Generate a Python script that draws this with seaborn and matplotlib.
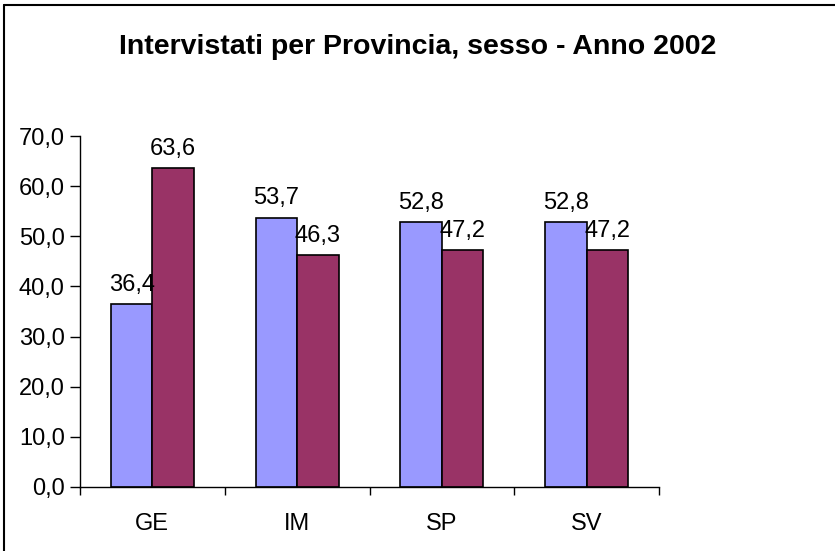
import matplotlib
matplotlib.use("Agg")
import matplotlib.pyplot as plt
import seaborn as sns
import pandas as pd
from matplotlib.ticker import FuncFormatter, MultipleLocator
from matplotlib.lines import Line2D

province = ["GE", "IM", "SP", "SV"]
serie1 = [36.4, 53.7, 52.8, 52.8]
serie2 = [63.6, 46.3, 47.2, 47.2]
serie_nomi = ["Serie1", "Serie2"]
titolo = "Intervistati per Provincia, sesso - Anno 2002"

df = pd.DataFrame({
    "Provincia": province * 2,
    "Valore": serie1 + serie2,
    "Serie": [serie_nomi[0]] * len(province) + [serie_nomi[1]] * len(province),
})

sns.set_theme(style="white")
plt.rcParams["font.family"] = ["Liberation Sans", "DejaVu Sans"]

fig = plt.figure(figsize=(8.35, 5.51), dpi=100)
ax = fig.add_axes([80 / 835, 1 - 487 / 551, (659 - 80) / 835, (487 - 136) / 551])

sns.barplot(data=df, x="Provincia", y="Valore", hue="Serie",
            palette=["#9999FF", "#993366"], saturation=1, width=0.573, gap=0,
            edgecolor="black", linewidth=1.2, legend=False, ax=ax)

for cont in ax.containers:
    ax.bar_label(cont, labels=[f"{v:.1f}".replace(".", ",") for v in cont.datavalues],
                 padding=6, fontsize=17, color="black")

ax.set_ylim(0, 70)
ax.set_xlim(-0.5, len(province) - 0.5)
ax.yaxis.set_major_locator(MultipleLocator(10))
ax.yaxis.set_major_formatter(FuncFormatter(lambda v, p: f"{v:.1f}".replace(".", ",")))
ax.set_xticks([i - 0.5 for i in range(len(province) + 1)], minor=False)
ax.set_xticklabels([""] * (len(province) + 1))
ax.set_xticks(range(len(province)), minor=True)
ax.set_xticklabels(province, minor=True)
ax.tick_params(axis="x", which="major", direction="out", length=6, width=1, color="black", bottom=True)
ax.tick_params(axis="x", which="minor", length=0, pad=19, labelsize=17, labelcolor="black")
ax.tick_params(axis="y", direction="out", length=7, width=1, color="black", left=True,
               labelsize=17, labelcolor="black", pad=4)
ax.set_xlabel("")
ax.set_ylabel("")
for s in ["top", "right"]:
    ax.spines[s].set_visible(False)
for s in ["left", "bottom"]:
    ax.spines[s].set_color("black")
    ax.spines[s].set_linewidth(1)

fig.text(0.5, 1 - 47 / 551, titolo, ha="center", va="center",
         fontsize=20.5, fontweight="bold", color="black")

fig.add_artist(Line2D([4 / 835, 1], [1 - 4.5 / 551, 1 - 4.5 / 551], color="black", lw=1.5, transform=fig.transFigure))
fig.add_artist(Line2D([4 / 835, 4 / 835], [0, 1 - 4.5 / 551], color="black", lw=1.5, transform=fig.transFigure))

fig.savefig("out.png", dpi=100)
